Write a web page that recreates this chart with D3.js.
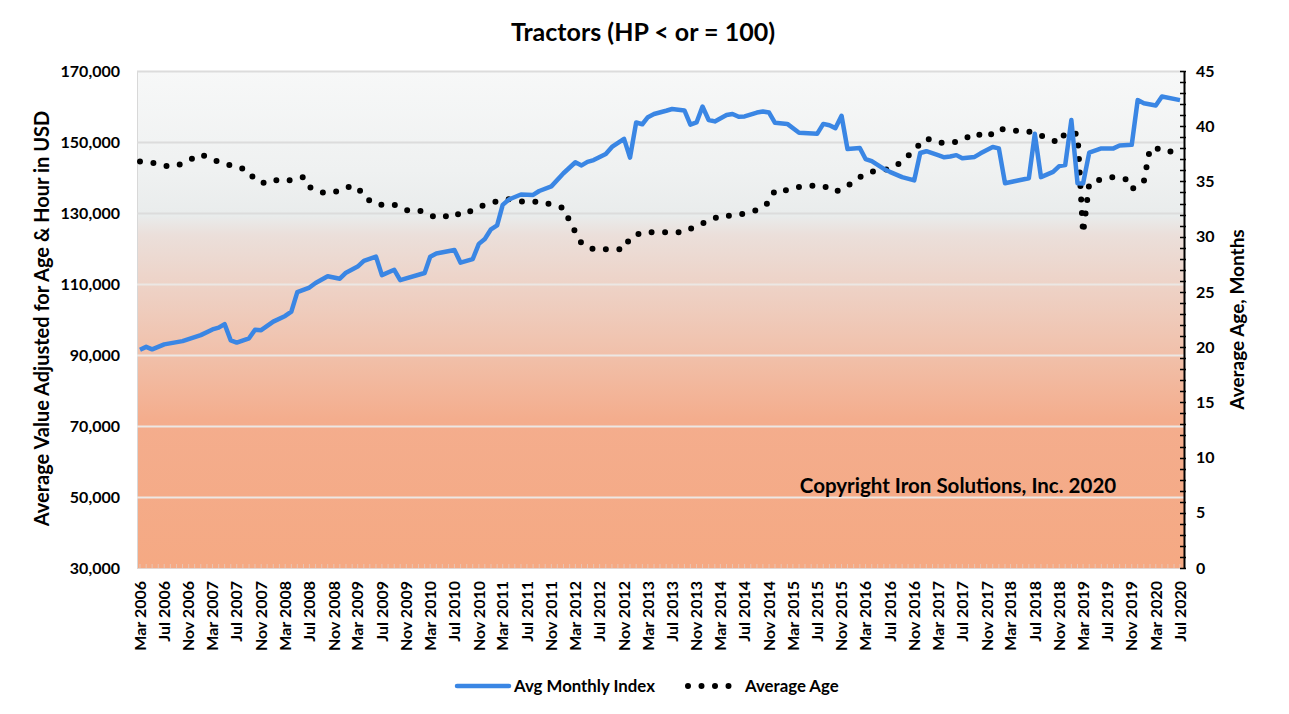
<!DOCTYPE html>
<html>
<head>
<meta charset="utf-8">
<script src="https://cdn.jsdelivr.net/npm/d3@7"></script>
<style>
  html, body { margin: 0; padding: 0; background: #ffffff; }
  svg { display: block; font-family: "Lato", "Open Sans", sans-serif; font-weight: 700; }
</style>
</head>
<body>
<svg id="chart" width="1289" height="714"></svg>
<script>
// ---------------- DATA ----------------
const chartTitle = "Tractors (HP < or = 100)";
const leftAxisTitle = "Average Value Adjusted for Age & Hour in USD";
const rightAxisTitle = "Average Age, Months";
const copyrightText = "Copyright Iron Solutions, Inc. 2020";
const seriesNames = ["Avg Monthly Index", "Average Age"];

const leftTicks = [30000, 50000, 70000, 90000, 110000, 130000, 150000, 170000];
const rightTicks = [0, 5, 10, 15, 20, 25, 30, 35, 40, 45];

// Avg Monthly Index (USD)
const indexMonths = [
  "2006-03","2006-04","2006-05","2006-07","2006-10","2007-01","2007-03","2007-04","2007-05","2007-06",
  "2007-07","2007-09","2007-10","2007-11","2008-01","2008-03","2008-04","2008-05","2008-07","2008-08",
  "2008-10","2008-12","2009-01","2009-03","2009-04","2009-06","2009-07","2009-09","2009-10","2010-02",
  "2010-03","2010-04","2010-07","2010-08","2010-10","2010-11","2010-12","2011-01","2011-02","2011-03",
  "2011-04","2011-06","2011-08","2011-09","2011-11","2012-01","2012-03","2012-04","2012-05","2012-06",
  "2012-08","2012-09","2012-11","2012-12","2013-01","2013-02","2013-03","2013-04","2013-06","2013-07",
  "2013-09","2013-10","2013-11","2013-12","2014-01","2014-02","2014-04","2014-05","2014-06","2014-07",
  "2014-09","2014-10","2014-11","2014-12","2015-02","2015-04","2015-07","2015-08","2015-09","2015-10",
  "2015-11","2015-12","2016-02","2016-03","2016-04","2016-06","2016-07","2016-09","2016-11","2016-12",
  "2017-01","2017-03","2017-04","2017-05","2017-06","2017-07","2017-09","2017-10","2017-12","2018-01",
  "2018-02","2018-04","2018-06","2018-07","2018-08","2018-10","2018-11","2018-12","2019-01","2019-02",
  "2019-03","2019-04","2019-06","2019-08","2019-09","2019-11","2019-12","2020-01","2020-03","2020-04",
  "2020-07"
];
const indexValues = [
  91500, 92300, 91600, 93000, 93900, 95600, 97200, 97700, 98700, 94100,
  93500, 94700, 97100, 97000, 99400, 101000, 102200, 107700, 109000, 110300,
  112200, 111500, 113200, 114900, 116500, 117700, 112500, 114000, 111100, 113100,
  117700, 118600, 119600, 116000, 117000, 121300, 122700, 125400, 126500, 132300,
  133800, 135200, 135100, 136200, 137500, 141200, 144300, 143400, 144400, 144900,
  146600, 148600, 150900, 145600, 155500, 155000, 157000, 157900, 158800, 159300,
  158900, 154900, 155500, 160000, 156200, 155800, 157600, 157900, 157100, 157200,
  158300, 158600, 158300, 155400, 155100, 152600, 152300, 155100, 154700, 153900,
  157400, 148000, 148300, 145200, 144600, 142400, 141600, 140100, 139200, 146900,
  147400, 146300, 145700, 145900, 146300, 145400, 145800, 146800, 148600, 148200,
  138400, 139100, 139800, 152300, 140100, 141600, 143200, 143500, 156200, 138400,
  138300, 147000, 148200, 148200, 149000, 149200, 161800, 160900, 160300, 162800,
  161800
];

// Average Age (months)
const ageMonths = [
  "2006-03","2006-05","2006-07","2006-09","2006-11","2007-01","2007-03","2007-05","2007-07","2007-09",
  "2007-10","2007-12","2008-02","2008-04","2008-06","2008-07","2008-09","2008-11","2009-01","2009-03",
  "2009-04","2009-06","2009-09","2009-11","2010-01","2010-03","2010-05","2010-07","2010-08","2010-10",
  "2010-12","2011-02","2011-04","2011-07","2011-09","2011-11","2012-01","2012-02","2012-03","2012-04",
  "2012-06","2012-08","2012-11","2012-12","2013-02","2013-04","2013-07","2013-09","2013-11","2014-01",
  "2014-03","2014-05","2014-07","2014-09","2014-11","2014-12","2015-02","2015-04","2015-06","2015-08",
  "2015-10","2015-12","2016-02","2016-04","2016-06","2016-08","2016-10","2016-11","2017-01","2017-03",
  "2017-05","2017-07","2017-09","2017-11","2018-01","2018-03","2018-05","2018-07","2018-09","2018-11",
  "2018-12","2019-02","2019-03","2019-04","2019-06","2019-08","2019-10","2019-11","2020-01","2020-02",
  "2020-05","2020-07"
];
const ageValues = [
  36.8, 36.7, 36.4, 36.4, 36.9, 37.45, 37.0, 36.55, 36.4, 35.9,
  35.1, 34.8, 35.2, 35.1, 35.4, 34.5, 34.0, 34.0, 34.5, 34.5,
  33.6, 32.9, 32.9, 32.4, 32.4, 31.9, 31.7, 32.2, 31.9, 32.4,
  32.9, 33.2, 33.4, 33.1, 33.2, 32.9, 32.6, 31.4, 30.4, 29.4,
  28.85, 28.85, 28.85, 29.9, 30.4, 30.4, 30.4, 30.4, 31.0, 31.4,
  31.9, 31.9, 32.1, 32.4, 33.1, 34.2, 34.2, 34.5, 34.6, 34.6,
  34.05, 34.6, 35.4, 35.9, 36.0, 36.4, 37.3, 37.9, 38.9, 38.5,
  38.5, 38.7, 39.4, 38.97, 39.8, 39.6, 39.6, 39.4, 38.9, 38.5,
  39.4, 39.3, 30.3, 34.8, 35.2, 35.4, 35.2, 34.3, 35.0, 38.0,
  37.9, 37.0
];

const xStart = "2006-03", xEnd = "2020-07";
const xLabelEveryMonths = 4;

// ---------------- CHART ----------------
const parseMonth = d3.timeParse("%Y-%m");
const fmtMonth = d3.timeFormat("%b %Y");
const svg = d3.select("#chart");

const plot = { left: 137, right: 1184, top: 71, bottom: 568 };

const x = d3.scaleTime()
  .domain([parseMonth(xStart), parseMonth(xEnd)])
  .range([140, 1180]);
const yL = d3.scaleLinear().domain([30000, 170000]).range([plot.bottom, plot.top]);
const yR = d3.scaleLinear().domain([0, 45]).range([plot.bottom, plot.top]);

// background gradient
const defs = svg.append("defs");
const grad = defs.append("linearGradient").attr("id", "bg")
  .attr("x1", 0).attr("y1", 0).attr("x2", 0).attr("y2", 1);
[
  [0.00, "#f7f8f8"],
  [0.20, "#eff1f1"],
  [0.29, "#e9ecec"],
  [0.33, "#ebdfda"],
  [0.45, "#eed0c3"],
  [0.58, "#f1bfa8"],
  [0.70, "#f4ad8d"],
  [1.00, "#f5a983"]
].forEach(([o, c]) => grad.append("stop").attr("offset", o).attr("stop-color", c));

svg.append("rect")
  .attr("x", plot.left).attr("y", plot.top)
  .attr("width", plot.right - plot.left).attr("height", plot.bottom - plot.top)
  .attr("fill", "url(#bg)");

// left edge faint line
svg.append("line")
  .attr("x1", plot.left + 0.5).attr("x2", plot.left + 0.5)
  .attr("y1", plot.top).attr("y2", plot.bottom)
  .attr("stroke", "#d8d8d8").attr("stroke-width", 1);

// gridlines
svg.append("g").selectAll("line")
  .data(leftTicks.filter(d => d > 30000))
  .join("line")
  .attr("x1", plot.left).attr("x2", plot.right)
  .attr("y1", d => Math.round(yL(d)) + 0.5).attr("y2", d => Math.round(yL(d)) + 0.5)
  .attr("stroke", d => d >= 130000 ? "#dcdcdc" : "#ece7e4")
  .attr("stroke-width", 2);

// bottom monthly minor ticks (faint)
const allMonths = d3.timeMonth.range(parseMonth(xStart), d3.timeMonth.offset(parseMonth(xEnd), 1));
svg.append("g").selectAll("line")
  .data(allMonths)
  .join("line")
  .attr("x1", d => x(d)).attr("x2", d => x(d))
  .attr("y1", plot.bottom - 4).attr("y2", plot.bottom)
  .attr("stroke", "#e7c4b4").attr("stroke-width", 1);
svg.append("line")
  .attr("x1", plot.left).attr("x2", plot.right)
  .attr("y1", plot.bottom + 0.5).attr("y2", plot.bottom + 0.5)
  .attr("stroke", "#e3d6d0").attr("stroke-width", 1);

// left axis labels
const gL = svg.append("g")
  .attr("transform", `translate(${plot.left},0)`)
  .call(d3.axisLeft(yL).tickValues(leftTicks).tickFormat(d3.format(",")).tickSize(0).tickPadding(17));
gL.select(".domain").remove();
gL.selectAll("text").attr("font-size", 16).attr("font-family", "Lato").attr("font-weight", 700).attr("fill", "#000");

// right axis
const gR = svg.append("g")
  .attr("transform", `translate(${plot.right},0)`)
  .call(d3.axisRight(yR).tickValues(rightTicks).tickFormat(d3.format("d")).tickSize(0).tickPadding(12));
gR.select(".domain").remove();
gR.selectAll("text").attr("font-size", 16).attr("font-family", "Lato").attr("font-weight", 700).attr("fill", "#000");
gR.append("line")
  .attr("x1", 0.5).attr("x2", 0.5).attr("y1", plot.top).attr("y2", plot.bottom + 1)
  .attr("stroke", "#000").attr("stroke-width", 2);
gR.append("g").selectAll("line")
  .data(d3.range(0, 46, 1))
  .join("line")
  .attr("x1", -4).attr("x2", 2)
  .attr("y1", d => Math.round(yR(d)) + 0.5).attr("y2", d => Math.round(yR(d)) + 0.5)
  .attr("stroke", "#000").attr("stroke-width", 1.5);

// x labels (every 4th month from start)
const labelDates = allMonths.filter((d, i) => i % xLabelEveryMonths === 0);
svg.append("g").selectAll("text")
  .data(labelDates)
  .join("text")
  .attr("transform", d => `translate(${x(d)},${plot.bottom + 13}) rotate(-90)`)
  .attr("text-anchor", "end")
  .attr("dy", "0.36em")
  .attr("font-size", 16)
  .attr("fill", "#000")
  .text(d => fmtMonth(d));

// lines
const indexData = indexMonths.map((m, i) => ({ d: parseMonth(m), v: indexValues[i] }));
const ageData = ageMonths.map((m, i) => ({ d: parseMonth(m), v: ageValues[i] }));

svg.append("path")
  .datum(ageData)
  .attr("fill", "none")
  .attr("stroke", "#000")
  .attr("stroke-width", 6)
  .attr("stroke-linecap", "round")
  .attr("stroke-linejoin", "round")
  .attr("stroke-dasharray", "0 13.5")
  .attr("d", d3.line().x(p => x(p.d)).y(p => yR(p.v)));

svg.append("path")
  .datum(indexData)
  .attr("fill", "none")
  .attr("stroke", "#3a86e4")
  .attr("stroke-width", 4.5)
  .attr("stroke-linejoin", "round")
  .attr("d", d3.line().x(p => x(p.d)).y(p => yL(p.v)));

// title
svg.append("text")
  .attr("x", 643).attr("y", 41)
  .attr("text-anchor", "middle")
  .attr("font-size", 25)
  .attr("fill", "#000")
  .text(chartTitle);

// axis titles
svg.append("text")
  .attr("transform", `translate(49,${(plot.top + plot.bottom) / 2 - 1}) rotate(-90)`)
  .attr("text-anchor", "middle")
  .attr("font-size", 20)
  .attr("fill", "#000")
  .text(leftAxisTitle);

svg.append("text")
  .attr("transform", `translate(1244,${(plot.top + plot.bottom) / 2}) rotate(-90)`)
  .attr("text-anchor", "middle")
  .attr("font-size", 19)
  .attr("fill", "#000")
  .text(rightAxisTitle);

// copyright
svg.append("text")
  .attr("x", 958).attr("y", 493)
  .attr("text-anchor", "middle")
  .attr("font-size", 20.5)
  .attr("fill", "#000")
  .text(copyrightText);

// legend
const lg = svg.append("g");
lg.append("line")
  .attr("x1", 457).attr("x2", 509).attr("y1", 686).attr("y2", 686)
  .attr("stroke", "#3a86e4").attr("stroke-width", 4.5).attr("stroke-linecap", "round");
lg.append("text").attr("x", 514).attr("y", 692).attr("font-size", 16.8).attr("fill", "#000").text(seriesNames[0]);
lg.append("line")
  .attr("x1", 688).attr("x2", 729).attr("y1", 686).attr("y2", 686)
  .attr("stroke", "#000").attr("stroke-width", 6).attr("stroke-linecap", "round")
  .attr("stroke-dasharray", "0 13.5");
lg.append("text").attr("x", 745).attr("y", 692).attr("font-size", 16.8).attr("fill", "#000").text(seriesNames[1]);
</script>
</body>
</html>
